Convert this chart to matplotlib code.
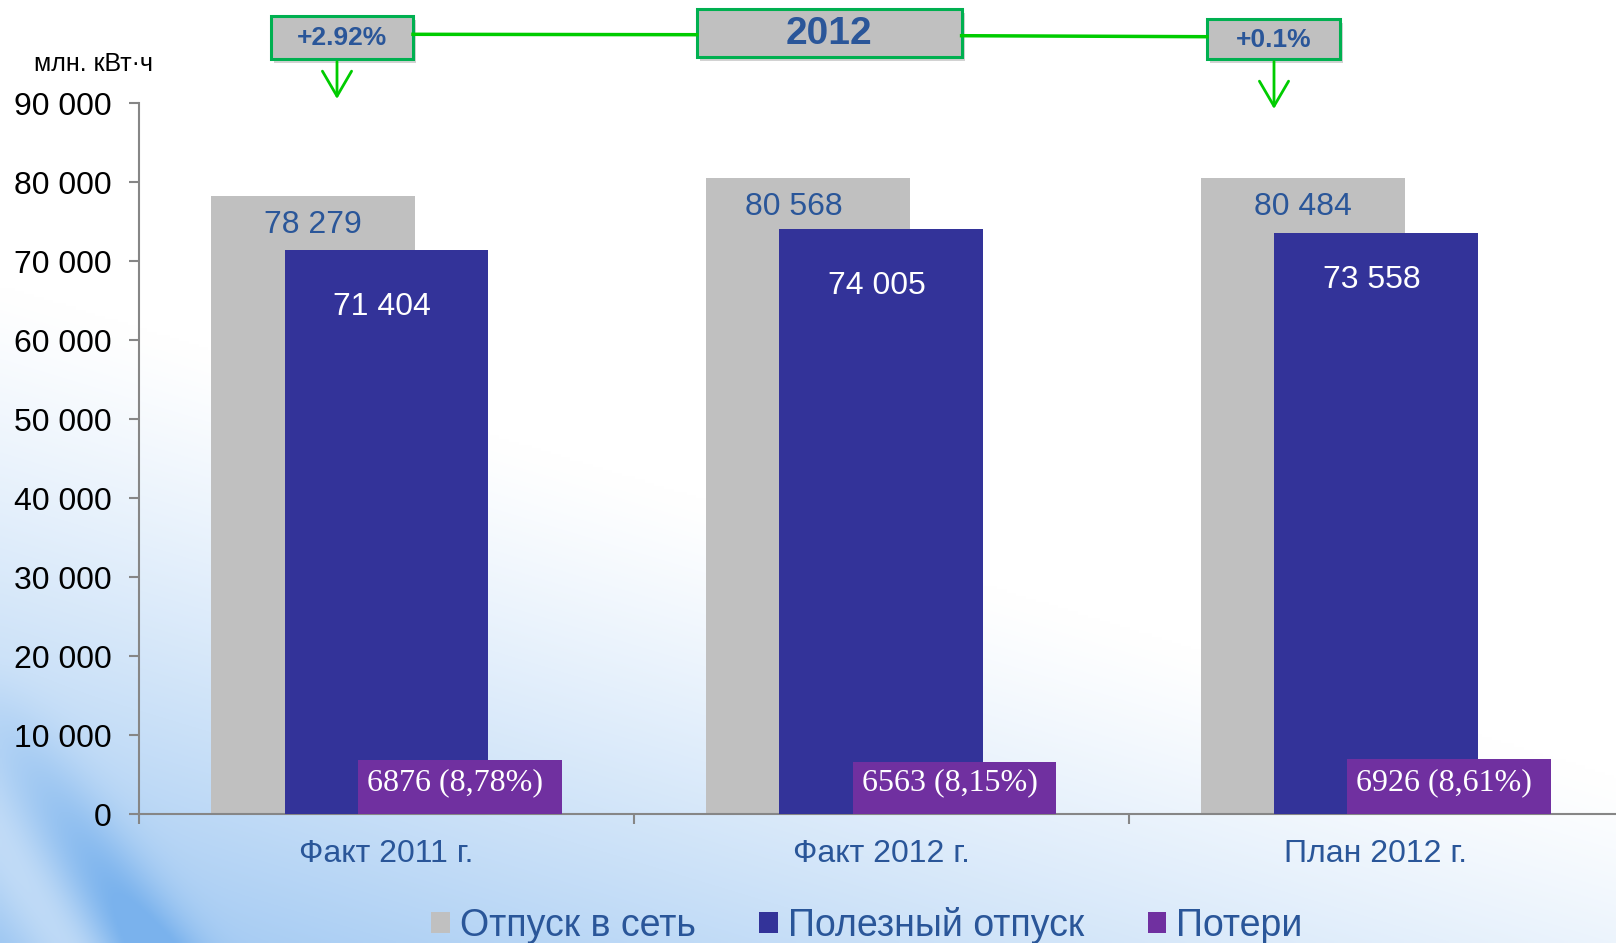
import numpy as np
import matplotlib
matplotlib.use("Agg")
import matplotlib.pyplot as plt
from matplotlib.patches import Rectangle, FancyArrowPatch
from matplotlib.lines import Line2D

categories = ["Факт 2011 г.", "Факт 2012 г.", "План 2012 г."]
supply = [78279, 80568, 80484]        # Отпуск в сеть
useful = [71404, 74005, 73558]        # Полезный отпуск
losses = [6876, 6563, 6926]           # Потери
loss_pct = ["8,78%", "8,15%", "8,61%"]
series_names = ["Отпуск в сеть", "Полезный отпуск", "Потери"]
y_ticks = [0, 10000, 20000, 30000, 40000, 50000, 60000, 70000, 80000, 90000]

plt.rcParams["font.family"] = ["Liberation Sans", "DejaVu Sans"]

W, H = 1616, 943
TXT_BLUE = "#2A5699"
GREEN = "#00CC00"

def fx(px):
    return px / W

def fy(py):
    return 1 - py / H

fig = plt.figure(figsize=(W / 100, H / 100), dpi=100)

# background swoosh (lower left)
gy, gx = np.mgrid[0:1:300j, 0:1:500j]   # gy: 0 bottom .. 1 top
d = gx * 0.6 + gy * 1.15
w = np.clip(1 - d / 0.8, 0, 1) ** 1.2 * 0.75
s = gx + 0.37 * gy
streak = np.exp(-((s - 0.09) / 0.03) ** 2) * np.clip(1 - gy / 0.3, 0, 1) * 0.45
lite = np.exp(-((s - 0.04) / 0.03) ** 2) * np.clip(1 - gy / 0.3, 0, 1) * 0.25
w = np.clip(w + streak - lite, 0, 1)
base = np.array([0.48, 0.70, 0.93])
img = 1 - w[..., None] * (1 - base)
bg = fig.add_axes([0, 0, 1, 1], zorder=-10)
bg.imshow(img, extent=[0, 1, 0, 1], aspect="auto", origin="lower", interpolation="bilinear")
bg.axis("off")

ax = fig.add_axes([0.0861, 0.1366, 0.9184, 0.7541])
ax.set_facecolor("none")

x = np.arange(len(categories))
bw = 0.412
off = 0.148
b1 = ax.bar(x - off, supply, width=bw, color="#C0C0C0", label=series_names[0], zorder=2)
b2 = ax.bar(x, useful, width=bw, color="#333399", label=series_names[1], zorder=3)
b3 = ax.bar(x + off, losses, width=bw, color="#7030A0", label=series_names[2], zorder=4)

def fmt(v):
    return f"{v:,}".replace(",", " ")

gray_dx = [0, -10, 0]
blue_dy = [-41, -41, -34]
for i in range(len(categories)):
    ax.annotate(fmt(supply[i]), (x[i] - off, supply[i]), xytext=(gray_dx[i], -21),
                textcoords="offset points", ha="center", va="center",
                fontsize=23, color=TXT_BLUE, zorder=5)
    ax.annotate(fmt(useful[i]), (x[i], useful[i]), xytext=(-3, blue_dy[i]),
                textcoords="offset points", ha="center", va="center",
                fontsize=23, color="white", zorder=5)
    ax.text(x[i] + off - 0.01, 4000, f"{losses[i]} ({loss_pct[i]})", ha="center",
            va="center", fontsize=23, color="white", family="Liberation Serif", zorder=5)

ax.set_xlim(-0.5, 2.5)
ax.set_ylim(0, 90000)
ax.set_yticks(y_ticks)
ax.set_yticklabels([fmt(v) for v in y_ticks])
ax.set_xticks([-0.5, 0.5, 1.5, 2.5])
ax.set_xticklabels([])
ax.set_xticks(x, minor=True)
ax.set_xticklabels(categories, minor=True)
ax.tick_params(axis="x", which="minor", length=0, pad=18, labelsize=23, labelcolor=TXT_BLUE)
ax.tick_params(axis="x", which="major", length=7, width=1.5, color="#868686")
ax.tick_params(axis="y", length=7, width=1.5, color="#868686", pad=13, labelsize=23)
for sp in ["top", "right"]:
    ax.spines[sp].set_visible(False)
for sp in ["left", "bottom"]:
    ax.spines[sp].set_color("#868686")
    ax.spines[sp].set_linewidth(1.5)

fig.text(fx(93), fy(64), "млн. кВт·ч", ha="center", va="center", fontsize=18, color="black")

# top callouts
pct1 = (supply[1] / supply[0] - 1) * 100
pct2 = (supply[1] / supply[2] - 1) * 100
boxes = [
    ((271, 15.5, 413, 58.7), f"+{pct1:.2f}%", 19),
    ((696.7, 9.3, 961.6, 56.7), "2012", 28),
    ((1206.8, 18.6, 1339.8, 58.7), f"+{pct2:.1f}%", 19),
]
fig.add_artist(Line2D([fx(413), fx(696.7)], [fy(34.3), fy(34.7)], color=GREEN, lw=2.5))
fig.add_artist(Line2D([fx(961.6), fx(1206.8)], [fy(35.7), fy(36.7)], color=GREEN, lw=2.5))
for (x0, y0, x1, y1), label, size in boxes:
    fig.add_artist(Rectangle((fx(x0 + 3), fy(y1 + 4)), fx(x1 - x0), (y1 - y0) / H,
                             transform=fig.transFigure, facecolor="#808080", alpha=0.35,
                             edgecolor="none"))
    fig.add_artist(Rectangle((fx(x0), fy(y1)), fx(x1 - x0), (y1 - y0) / H,
                             transform=fig.transFigure, facecolor="#C0C0C0",
                             edgecolor="#00B050", lw=2.2))
    fig.text(fx((x0 + x1) / 2), fy((y0 + y1) / 2 + 1), label, ha="center", va="center",
             fontsize=size, fontweight="bold", color=TXT_BLUE)

for xa, ya0, ya1 in [(337, 58.7, 101.7), (1274, 58.7, 111.7)]:
    fig.add_artist(FancyArrowPatch((fx(xa), fy(ya0)), (fx(xa), fy(ya1)),
                                   transform=fig.transFigure,
                                   arrowstyle="->,head_length=0.6,head_width=0.35",
                                   mutation_scale=30, color=GREEN, lw=2))

fig.legend(handles=[b1, b2, b3], labels=series_names, loc="center",
           bbox_to_anchor=(0.5364, 0.019), ncol=3, frameon=False, fontsize=27,
           labelcolor=TXT_BLUE, handlelength=0.5, handleheight=0.5,
           handletextpad=0.26, columnspacing=1.7, borderpad=0)

fig.savefig("out.png", dpi=100)
